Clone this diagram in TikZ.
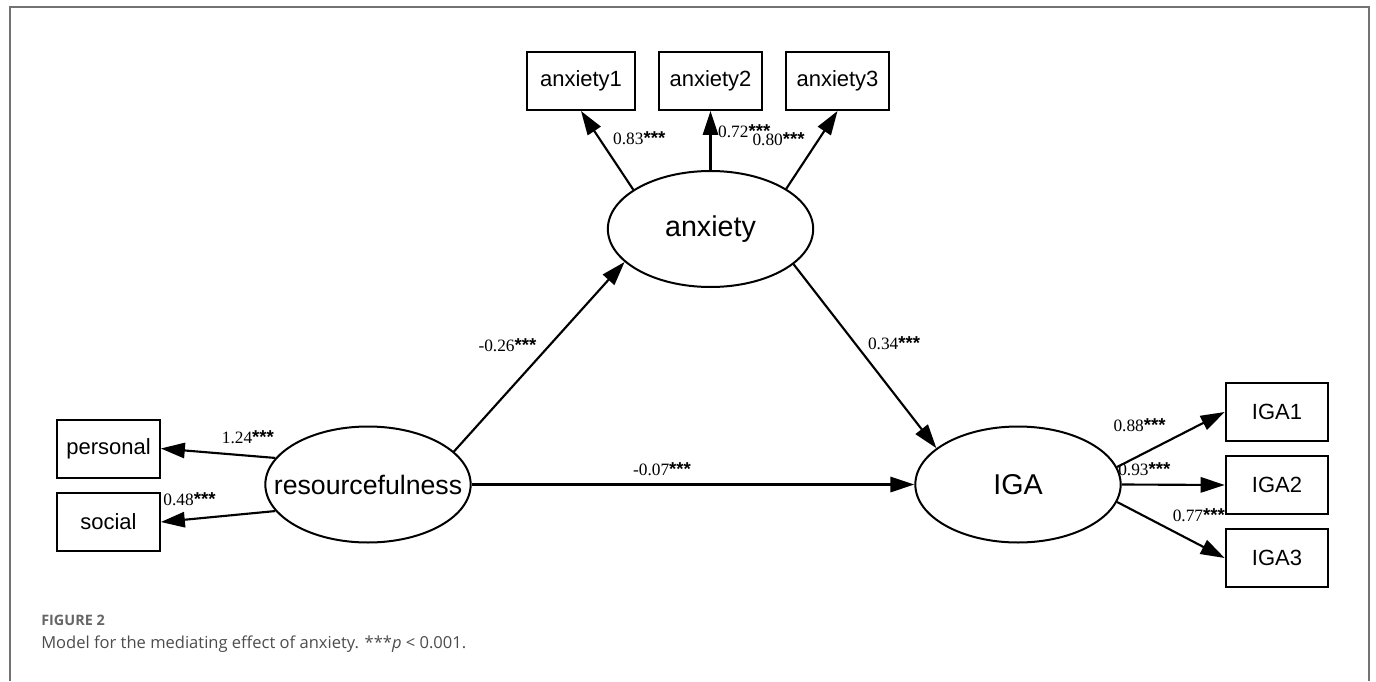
\documentclass[tikz,border=0pt]{standalone}
\usepackage{fontspec}
\setmainfont{Liberation Serif}
\setsansfont{Liberation Sans}
\newfontfamily\capfont{Open Sans}
\usetikzlibrary{shapes.geometric,arrows.meta}
\newcommand{\stars}{{\sffamily\bfseries\fontsize{14}{14}\selectfont ***}}
\tikzset{
  observed/.style={draw, line width=1.5pt, minimum width=77pt, minimum height=43.5pt,
    inner sep=0pt, font=\sffamily\fontsize{16.5}{17}\selectfont},
  latent/.style={draw, ellipse, line width=1.5pt, minimum width=154pt, minimum height=87pt, inner sep=0pt},
  lattext/.style={inner sep=0pt, font=\sffamily\fontsize{21.5}{22}\selectfont},
  link/.style={line width=1.6pt, -{Triangle[length=18pt,width=11.5pt]}},
  coef/.style={inner sep=0pt, font=\fontsize{13}{13}\selectfont},
}
\begin{document}
\begin{tikzpicture}[x=0.75pt, y=-0.75pt]
      \useasboundingbox (0,0) rectangle (1376,681);
      \draw[black!55, line width=1.5pt] (10,681) -- (10,7) -- (1369,7) -- (1369,681);
      % latent variables
      \node[latent, label={[lattext]center:anxiety}] (anx) at (710.5,229) {};
      \node[latent, label={[lattext, font=\sffamily\fontsize{20}{22}\selectfont]center:resourcefulness}] (res) at (368,484.5) {};
      \node[latent, label={[lattext]center:IGA}] (iga) at (1018,484.5) {};
      % indicators
      \node[observed, minimum width=81pt] (anx1) at (581,81) {anxiety1};
      \node[observed] (anx2) at (710.5,81) {anxiety2};
      \node[observed] (anx3) at (837.5,81) {anxiety3};
      \node[observed] (pers) at (108.5,448.5) {personal};
      \node[observed] (soc) at (108.5,522) {social};
      \node[observed] (iga1) at (1277,412) {IGA1};
      \node[observed] (iga2) at (1277,485) {IGA2};
      \node[observed] (iga3) at (1277,558) {IGA3};
      % paths
      \draw[link] (anx.153) -- node[coef, pos=0.66, right=10pt] {0.83\stars} (anx1.south);
      \draw[link] (anx.90) -- node[coef, pos=0.65, right=5pt] {0.72\stars} (anx2.south);
      \draw[link] (anx.28) -- node[coef, pos=0.64, left=10pt] {0.80\stars} (anx3.south);
      \draw[link] (res.21.6) -- node[coef, pos=0.56, left=9pt] {-0.26\stars} (anx.201);
      \draw[link] (anx.-23.5) -- node[coef, pos=0.43, right=9pt] {0.34\stars} (iga.156);
      \draw[link] (res.east) -- node[coef, pos=0.43, above=6pt] {-0.07\stars} (iga.west);
      \draw[link] (res.164) -- node[coef, pos=0.24, above=8pt] {1.24\stars} (pers.east);
      \draw[link] (res.196) -- node[coef, pos=0.75, above=9pt] {0.48\stars} (soc.east);
      \draw[link] (iga.10.5) -- node[coef, pos=0.21, above=17pt] {0.88\stars} (iga1.west);
      \draw[link] (iga.east) -- node[coef, pos=0.22, above=6pt] {0.93\stars} (iga2.west);
      \draw[link] (iga.-10.6) -- node[coef, pos=0.76, above=16pt] {0.77\stars} (iga3.west);
      % caption
      \node[anchor=base west, inner sep=0pt, text=black!60, font=\capfont\bfseries\fontsize{10.8}{11}\selectfont] (fig) at (41,625) {FIGURE 2};
      \node[anchor=base west, inner sep=0pt, text=black!70, font=\capfont\fontsize{12.4}{13}\selectfont] (cap) at (41,648) {Model for the mediating effect of anxiety. ***\textit{p} < 0.001.};
    \end{tikzpicture}
\end{document}
